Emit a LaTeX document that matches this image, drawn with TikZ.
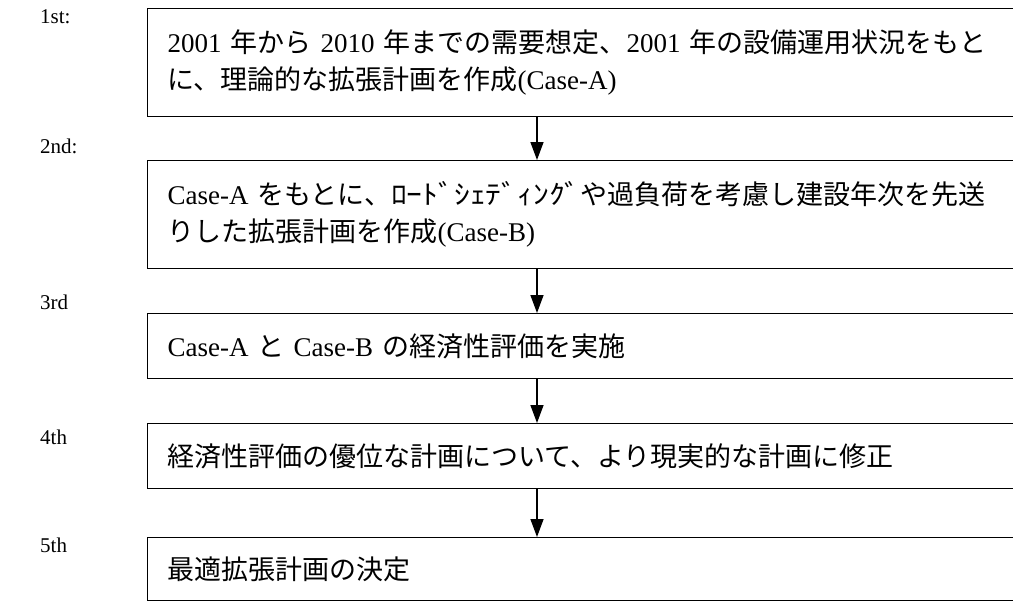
\documentclass[tikz,border=0pt]{standalone}
\usepackage{graphicx}
\usepackage{fontspec}
\setmainfont{Liberation Serif}
\newfontfamily\jp{Noto Sans CJK JP}
\usetikzlibrary{arrows.meta}
\newcommand{\J}[1]{{\jp #1}}
\tikzset{
  stepbox/.style={draw, line width=1.1pt, anchor=north west, minimum width=873pt,
    inner xsep=20pt, inner ysep=0pt, text width=833pt, align=left,
    font=\fontsize{27}{37}\selectfont},
  flowarrow/.style={line width=1.4pt, -{Triangle[length=18pt,width=13pt]}},
  steplabel/.style={anchor=west, font=\fontsize{21}{24}\selectfont, inner sep=0pt}
}
\begin{document}
\begin{tikzpicture}[x=1pt,y=1pt]
\useasboundingbox (0,0) rectangle (1013,-603);
\clip (0,0) rectangle (1013,-603);
\fill[white] (0,0) rectangle (1013,-603);

\node[steplabel] (l1) at (40,-17) {1st:};
\node[steplabel] (l2) at (40,-146) {2nd:};
\node[steplabel] (l3) at (40,-302) {3rd};
\node[steplabel] (l4) at (40,-437) {4th};
\node[steplabel] (l5) at (40,-545) {5th};

\node[stepbox, minimum height=108pt] (b1) at (147,-8)
  {2001 \J{年から} 2010 \J{年までの需要想定、}2001 \J{年の設備運用状況をもと}\\\J{に、理論的な拡張計画を作成}(Case-A)};
\node[stepbox, minimum height=108pt] (b2) at (147,-160)
  {Case-A \J{をもとに、}\scalebox{1.17}[1]{\jp ﾛｰﾄﾞｼｪﾃﾞｨﾝｸﾞ}\J{や過負荷を考慮し建設年次を先送}\\\J{りした拡張計画を作成}(Case-B)};
\node[stepbox, minimum height=65pt] (b3) at (147,-313)
  {Case-A \J{と} Case-B \J{の経済性評価を実施}};
\node[stepbox, minimum height=65pt] (b4) at (147,-423)
  {\J{経済性評価の優位な計画について、より現実的な計画に修正}};
\node[stepbox, minimum height=63pt] (b5) at (147,-537)
  {\J{最適拡張計画の決定}};

\coordinate (ax) at (537,0);
\draw[flowarrow] (b1.south -| ax) -- (b2.north -| ax);
\draw[flowarrow] (b2.south -| ax) -- (b3.north -| ax);
\draw[flowarrow] (b3.south -| ax) -- (b4.north -| ax);
\draw[flowarrow] (b4.south -| ax) -- (b5.north -| ax);
\end{tikzpicture}
\end{document}
